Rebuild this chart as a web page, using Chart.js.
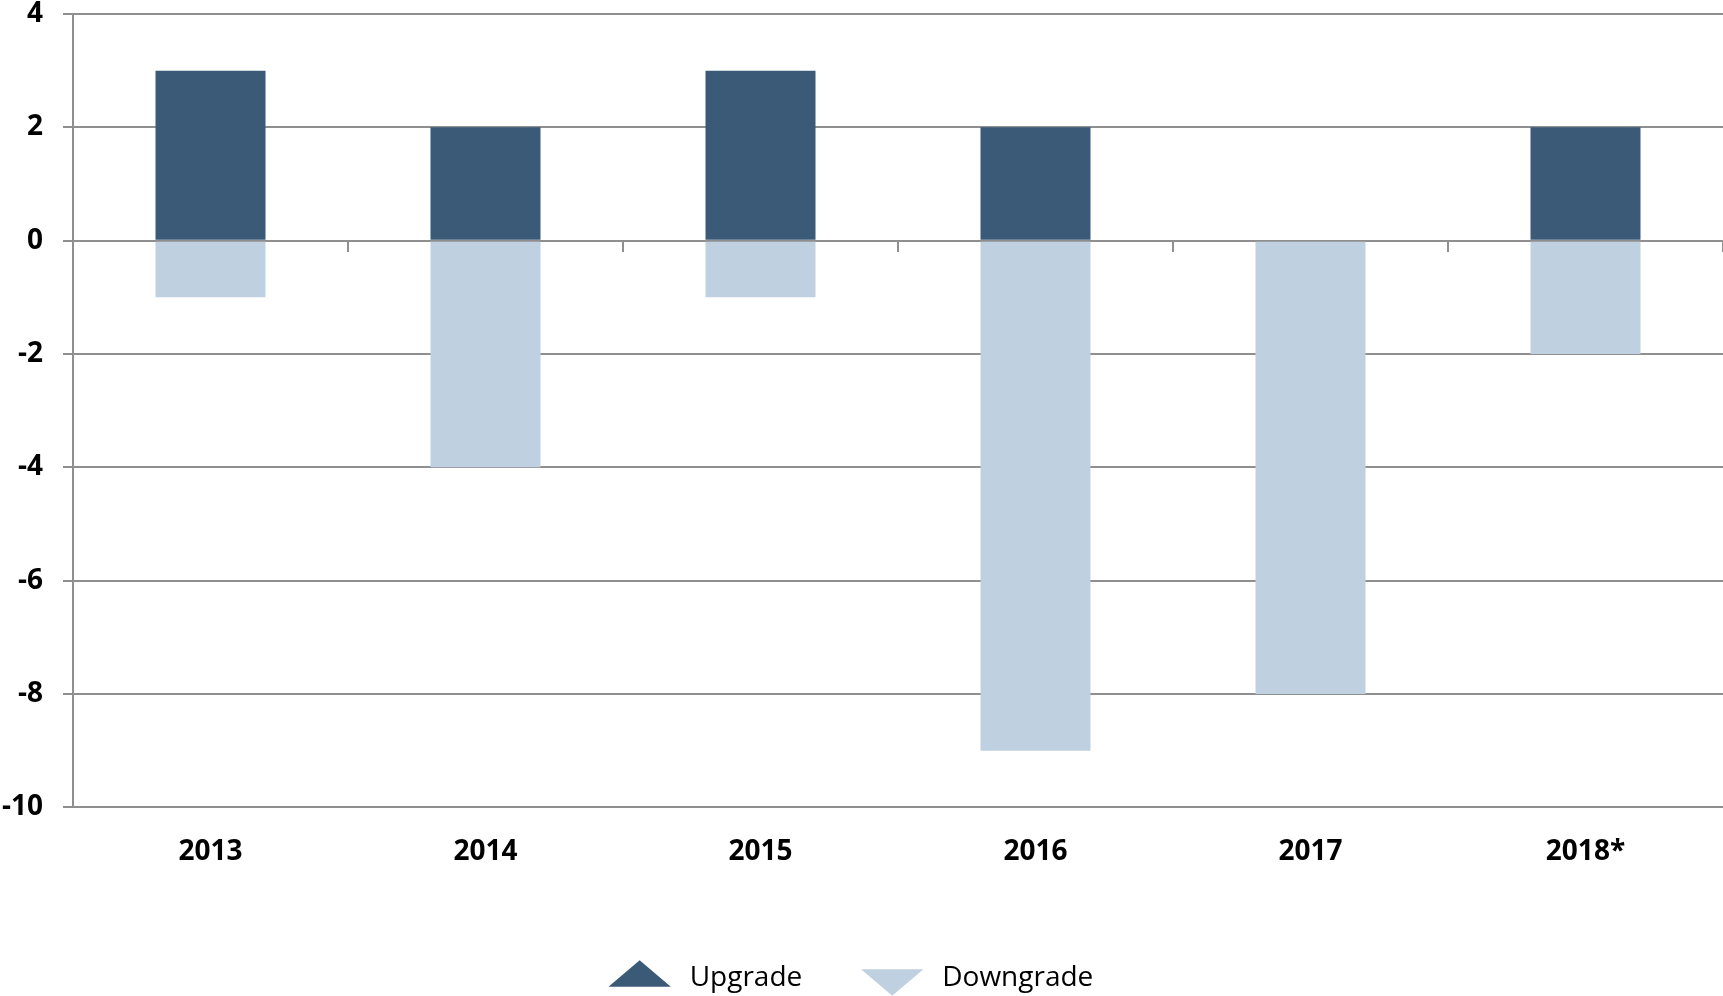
<!DOCTYPE html>
<html>
<head>
<meta charset="utf-8">
<script src="https://cdn.jsdelivr.net/npm/chart.js@4.4.1/dist/chart.umd.min.js"></script>
<style>
  html, body { margin: 0; padding: 0; background: #fff; }
  #wrap { width: 1723px; height: 996px; }
</style>
</head>
<body>
<div id="wrap"><canvas id="ratingChart"></canvas></div>
<script>
const years = ['2013', '2014', '2015', '2016', '2017', '2018*'];
const upgrades = [3, 2, 3, 2, 0, 2];
const downgrades = [-1, -4, -1, -9, -8, -2];
const yMin = -10, yMax = 4, yStep = 2;

const darkBlue = '#3a5a78';
const lightBlue = '#bfd0e0';
const gridGrey = '#8f8f8f';

Chart.defaults.font.family = '"Open Sans", "Noto Sans", sans-serif';
Chart.defaults.color = '#000';

// legend in the original sits a little left of centre
const legendShift = {
  id: 'legendShift',
  afterLayout(chart) {
    chart.legend.left -= 13;
    chart.legend.right -= 13;
  }
};

new Chart(document.getElementById('ratingChart').getContext('2d'), {
  type: 'bar',
  data: {
    labels: years,
    datasets: [
      { label: 'Upgrade', data: upgrades, backgroundColor: darkBlue, borderWidth: 0 },
      { label: 'Downgrade', data: downgrades, backgroundColor: lightBlue, borderWidth: 0 }
    ]
  },
  plugins: [legendShift],
  options: {
    responsive: true,
    maintainAspectRatio: false,
    animation: false,
    categoryPercentage: 1,
    barPercentage: 0.4,
    layout: { padding: { top: 0, right: 0, bottom: -6, left: 0 } },
    plugins: {
      tooltip: { enabled: false },
      legend: {
        position: 'bottom',
        labels: {
          usePointStyle: true,
          pointStyleWidth: 72,
          boxHeight: 25,
          padding: 54,
          font: { size: 28 },
          color: '#000',
          generateLabels: chart => {
            const items = Chart.defaults.plugins.legend.labels.generateLabels(chart);
            items.forEach((it, i) => {
              it.pointStyle = 'triangle';
              it.rotation = i === 0 ? 0 : 180;
              it.lineWidth = 0;
              it.strokeStyle = 'rgba(0,0,0,0)';
            });
            return items;
          }
        }
      }
    },
    scales: {
      x: {
        stacked: true,
        grid: { display: false },
        border: { display: true, color: gridGrey, width: 2 },
        ticks: { font: { size: 28, weight: 'bold' }, padding: 20 },
        afterFit: s => { s.height += 21; }
      },
      // axis along the zero line: draws the line over the bars plus the category ticks
      xZero: {
        type: 'category',
        position: { y: 0 },
        offset: true,
        z: 1,
        grid: { offset: true, drawOnChartArea: false, drawTicks: true, tickLength: 10, color: gridGrey, lineWidth: 2 },
        border: { display: true, color: gridGrey, width: 2 },
        ticks: { display: false }
      },
      y: {
        stacked: true,
        min: yMin,
        max: yMax,
        ticks: { stepSize: yStep, font: { size: 28, weight: 'bold' }, padding: 20 },
        grid: { color: gridGrey, lineWidth: 2, tickLength: 10 },
        border: { display: true, color: gridGrey, width: 2 },
        afterFit: s => { s.width = 73; s.paddingTop = 14; }
      }
    }
  }
});
</script>
</body>
</html>
